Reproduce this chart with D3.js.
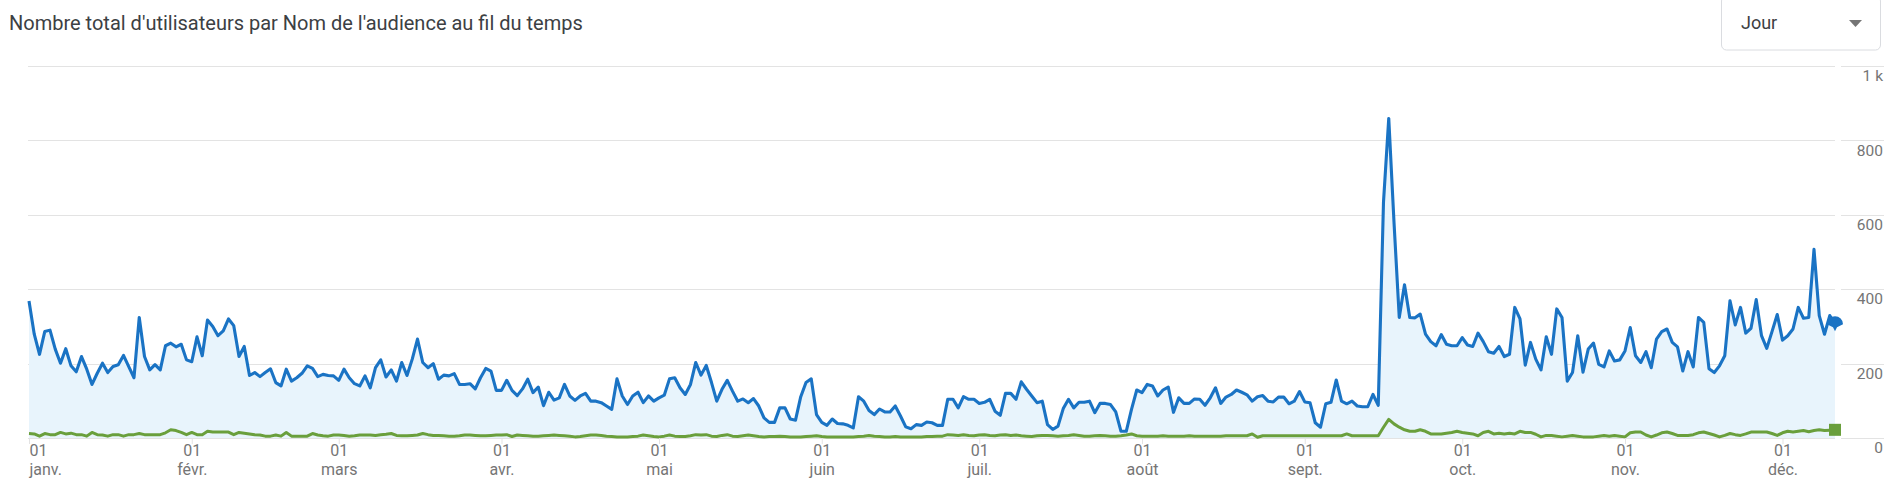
<!DOCTYPE html>
<html>
<head>
<meta charset="utf-8">
<script src="https://cdn.jsdelivr.net/npm/d3@7"></script>
<style>
  html, body { margin: 0; padding: 0; background: #ffffff; }
  svg { display: block; }
  text { font-family: Roboto, "Noto Sans", Arial, sans-serif; }
</style>
</head>
<body>
<svg id="chart" width="1899" height="479"></svg>
<script>
// ---------- DATA ----------
const title = "Nombre total d'utilisateurs par Nom de l'audience au fil du temps";
const periodLabel = "Jour";
const startDate = "2023-01-01";
const monthLabels = ["janv.", "févr.", "mars", "avr.", "mai", "juin", "juil.", "août", "sept.", "oct.", "nov.", "déc."];
const yTicks = [0, 200, 400, 600, 800, 1000];
const yTickLabels = ["0", "200", "400", "600", "800", "1 k"];

// Daily totals, series 1 (blue), 1 Jan -> 11 Dec
const seriesBlue = [
  368,279,225,286,290,239,201,240,194,178,219,185,144,174,201,176,192,197,222,192,162,324,219,183,197,183,248,255,245,252,210,
  205,272,221,317,300,275,288,320,302,219,246,168,176,165,176,186,149,140,185,153,162,174,194,187,165,171,168,
  167,155,185,162,146,140,167,135,189,210,164,183,153,203,168,212,266,203,189,200,158,169,167,173,144,144,146,132,162,187,180,128,
  128,155,128,114,132,158,122,137,87,123,102,108,144,113,101,113,120,99,99,95,86,77,159,113,90,
  113,123,95,113,99,108,115,159,162,135,117,144,203,169,195,149,99,131,155,126,99,105,95,106,86,54,42,42,81,81,51,
  48,111,149,159,63,42,34,51,39,38,34,27,111,99,74,63,78,70,70,86,59,30,25,36,34,43,
  41,34,34,104,104,81,111,104,104,93,96,104,72,61,120,120,104,151,131,113,95,99,36,23,32,79,104,81,96,96,99,68,93,93,90,70,18,18,77,
  129,122,144,140,113,129,137,69,108,93,93,105,104,88,108,135,93,110,
  117,129,123,116,99,111,114,99,97,110,110,92,99,125,97,95,41,29,92,96,156,99,92,99,86,84,84,117,88,635,859,580,324,412,324,323,333,
  279,259,248,278,252,248,248,270,250,246,282,259,232,228,246,219,225,351,320,196,257,
  212,183,272,225,347,324,153,176,275,177,239,255,198,191,234,207,210,234,297,221,203,232,189,266,286,293,257,245,180,232,191,324,
  311,186,176,194,221,369,304,351,282,295,372,275,241,286,332,263,275,293,351,322,324,507,329,279,329,306
];

// Daily totals, series 2 (green)
const seriesGreen = [
  12,11,5,12,9,9,15,11,13,9,9,5,15,9,8,5,9,9,5,9,9,12,9,9,9,9,14,22,20,15,9,15,9,9,18,16,16,16,16,9,15,13,11,9,8,5,5,8,5,15,5,5,5,5,12,8,6,5,
  8,8,7,5,6,8,8,8,7,9,10,12,7,6,6,7,8,12,9,7,7,6,5,5,6,8,8,7,6,6,7,8,8,9,4,8,7,6,5,5,6,7,8,7,6,5,3,4,6,8,8,7,5,4,3,3,3,
  4,5,8,6,4,3,5,8,5,4,4,6,9,8,9,5,4,7,9,5,4,6,8,6,4,3,4,4,5,4,3,3,3,4,5,6,4,3,3,3,3,3,3,4,5,7,5,4,3,3,4,3,3,3,3,3,4,
  4,5,5,9,8,7,9,7,6,8,9,7,6,8,9,7,8,6,5,4,6,7,7,6,5,6,7,9,7,5,5,6,7,6,5,5,6,8,11,6,5,5,5,5,6,5,5,5,5,6,5,5,5,5,5,5,6,
  6,6,6,6,11,2,6,6,6,6,6,6,6,6,6,6,6,6,6,6,6,6,11,6,6,6,6,6,6,
  29,50,38,29,22,18,18,22,18,11,11,11,13,15,18,15,13,11,6,15,18,11,13,11,13,11,18,15,15,
  10,3,7,7,5,3,5,7,5,3,3,3,5,7,5,7,5,3,14,16,16,8,3,8,14,16,12,7,7,7,9,14,16,12,8,3,7,12,9,7,11,16,16,16,16,12,7,14,18,16,18,20,17,20,22,20,21,22
];

// ---------- CHART ----------
const svg = d3.select("#chart");
const parse = d3.utcParse("%Y-%m-%d");
const t0 = parse(startDate);
const dates = seriesBlue.map((_, i) => d3.utcDay.offset(t0, i));
const blueData = seriesBlue.map((v, i) => ({ date: dates[i], v }));
const greenData = seriesGreen.map((v, i) => ({ date: dates[i], v }));

const x = d3.scaleUtc().domain([dates[0], dates[dates.length - 1]]).range([29, 1835]);
const y = d3.scaleLinear().domain([0, 1000]).range([438, 66]);

// title
svg.append("text")
  .attr("x", 9).attr("y", 30)
  .attr("font-size", 20)
  .attr("fill", "#3c4043")
  .text(title);

// period selector
const box = svg.append("g");
box.append("rect")
  .attr("x", 1721.5).attr("y", -4).attr("width", 159).attr("height", 54)
  .attr("rx", 5).attr("fill", "#fff").attr("stroke", "#dadce0");
box.append("text")
  .attr("x", 1741).attr("y", 29)
  .attr("font-size", 18).attr("fill", "#3c4043")
  .text(periodLabel);
box.append("path")
  .attr("d", "M1849,20 L1862,20 L1855.5,27 Z")
  .attr("fill", "#757575");

// gridlines (plot part + axis part)
const grid = svg.append("g");
yTicks.forEach(t => {
  grid.append("line")
    .attr("x1", 28).attr("x2", 1835)
    .attr("y1", Math.round(y(t)) + 0.5).attr("y2", Math.round(y(t)) + 0.5)
    .attr("stroke", "#e3e3e3");
  grid.append("line")
    .attr("x1", 1841).attr("x2", 1884)
    .attr("y1", Math.round(y(t)) + 0.5).attr("y2", Math.round(y(t)) + 0.5)
    .attr("stroke", "#e3e3e3");
});

// y labels
const yAxis = d3.axisRight(y).tickValues(yTicks)
  .tickFormat((d, i) => yTickLabels[i]).tickSize(0).tickPadding(0);
const yg = svg.append("g").attr("transform", "translate(1883,0)").call(yAxis);
yg.select(".domain").remove();
yg.selectAll("text")
  .attr("text-anchor", "end")
  .attr("dy", "0.95em")
  .attr("x", 0)
  .attr("font-size", 15.5).attr("font-family", "Roboto, sans-serif")
  .attr("fill", "#757575");

// area + lines
const area = d3.area().x(d => x(d.date)).y0(y(0)).y1(d => y(d.v));
svg.append("path").datum(blueData)
  .attr("d", area).attr("fill", "#e8f4fc");

const line = d3.line().x(d => x(d.date)).y(d => y(d.v));
svg.append("path").datum(greenData)
  .attr("d", line).attr("fill", "none")
  .attr("stroke", "#6a9f3c").attr("stroke-width", 3).attr("stroke-linejoin", "round");
svg.append("path").datum(blueData)
  .attr("d", line).attr("fill", "none")
  .attr("stroke", "#1a73c4").attr("stroke-width", 3.1).attr("stroke-linejoin", "round");

// x axis ticks & labels
const monthStarts = d3.utcMonth.range(t0, d3.utcDay.offset(dates[dates.length - 1], 1));
const xAxis = d3.axisBottom(x).tickValues(monthStarts)
  .tickSize(6).tickFormat(() => "");
const xg = svg.append("g").attr("transform", "translate(0,438)").call(xAxis);
xg.select(".domain").remove();
xg.selectAll(".tick line").attr("stroke", "#e3e3e3");
xg.selectAll(".tick").each(function (d, i) {
  const g = d3.select(this);
  const anchor = i === 0 ? "start" : "middle";
  g.append("text").attr("x", 0).attr("y", 18)
    .attr("text-anchor", anchor).attr("font-size", 16).attr("fill", "#757575")
    .text("01");
  g.append("text").attr("x", 0).attr("y", 37)
    .attr("text-anchor", anchor).attr("font-size", 16).attr("fill", "#757575")
    .text(monthLabels[d.getUTCMonth()]);
});

// end markers
const last = blueData[blueData.length - 1];
const lx = x(last.date), ly = y(last.v);
svg.append("path")
  .attr("d", `M${lx - 8},${ly} A8,8 0 0 1 ${lx + 8},${ly} L${lx + 2},${ly + 3} L${lx},${ly + 7} L${lx - 2},${ly + 3} Z`)
  .attr("fill", "#1a73c4");
const lg = greenData[greenData.length - 1];
svg.append("rect")
  .attr("x", x(lg.date) - 6).attr("y", y(lg.v) - 6)
  .attr("width", 12).attr("height", 12)
  .attr("fill", "#6a9f3c");
</script>
</body>
</html>
